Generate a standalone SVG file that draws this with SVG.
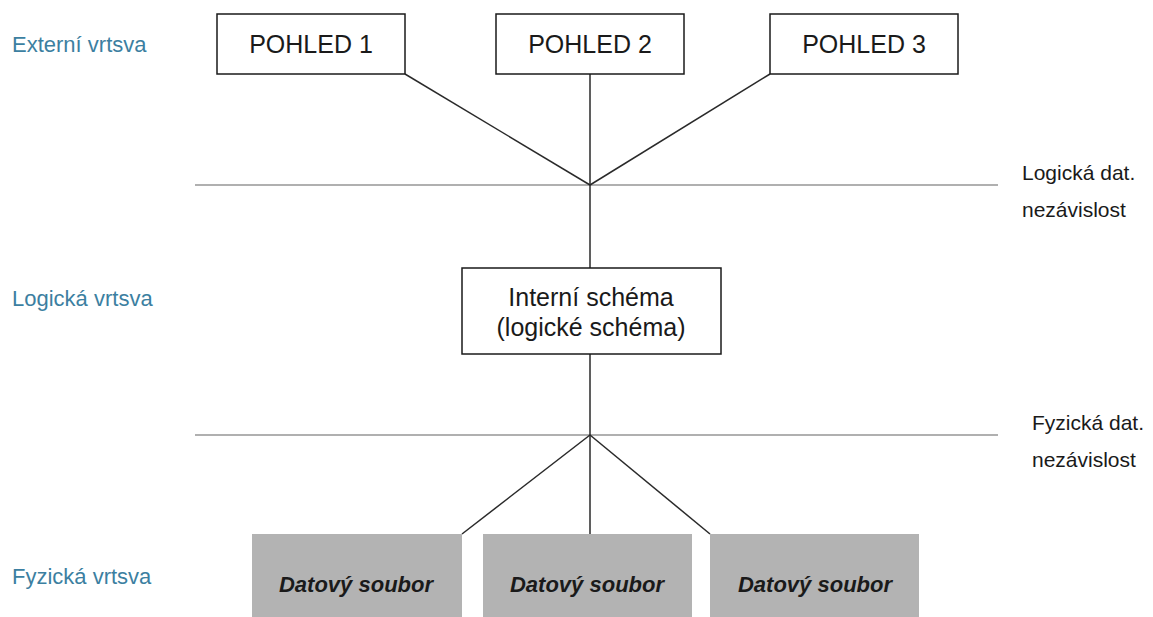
<svg xmlns="http://www.w3.org/2000/svg" width="1153" height="617" viewBox="0 0 1153 617">
<style>
.box{fill:#ffffff;stroke:#1a1a1a;stroke-width:1.5}
.file{fill:#b3b3b3}
.t{font-family:"Liberation Sans",Arial,sans-serif;fill:#1a1a1a}
.big{font-size:25px}
.ft{font-size:22px;font-weight:bold;font-style:italic}
.layer{font-family:"Liberation Sans",Arial,sans-serif;font-size:22px;fill:#3c7fa1}
.note{font-family:"Liberation Sans",Arial,sans-serif;font-size:21px;fill:#1a1a1a}
.sep{stroke:#b0b0b0;stroke-width:2;fill:none}
.con{stroke:#2a2a2a;stroke-width:1.5;fill:none}
</style>
<rect width="1153" height="617" fill="#ffffff"/>
<g id="separators">
<line class="sep" x1="195" y1="185" x2="998" y2="185"/>
<line class="sep" x1="195" y1="435" x2="998" y2="435"/>
</g>
<g id="connectors">
<line class="con" x1="405" y1="74" x2="590" y2="185"/>
<line class="con" x1="590" y1="74" x2="590" y2="268"/>
<line class="con" x1="770" y1="74" x2="590" y2="185"/>
<line class="con" x1="590" y1="354" x2="590" y2="534"/>
<line class="con" x1="590" y1="435" x2="462" y2="534"/>
<line class="con" x1="590" y1="435" x2="710" y2="534"/>
</g>
<g id="layer-labels">
<text class="layer" x="12" y="52">Externí vrtsva</text>
<text class="layer" x="12" y="306">Logická vrtsva</text>
<text class="layer" x="12" y="584">Fyzická vrtsva</text>
</g>
<g id="notes">
<text class="note" x="1022" y="180">Logická dat.</text>
<text class="note" x="1022" y="217">nezávislost</text>
<text class="note" x="1032" y="430">Fyzická dat.</text>
<text class="note" x="1032" y="467">nezávislost</text>
</g>
<g id="pohled1">
<rect class="box" x="217" y="14" width="188" height="60"/>
<text class="t big" x="311" y="53" text-anchor="middle">POHLED 1</text>
</g>
<g id="pohled2">
<rect class="box" x="496" y="14" width="188" height="60"/>
<text class="t big" x="590" y="53" text-anchor="middle">POHLED 2</text>
</g>
<g id="pohled3">
<rect class="box" x="770" y="14" width="188" height="60"/>
<text class="t big" x="864" y="53" text-anchor="middle">POHLED 3</text>
</g>
<g id="interni">
<rect class="box" x="462" y="268" width="259" height="86"/>
<text class="t big" x="591" y="306" text-anchor="middle">Interní schéma</text>
<text class="t big" x="591" y="336" text-anchor="middle">(logické schéma)</text>
</g>
<g id="soubor1">
<rect class="file" x="252" y="534" width="210" height="90"/>
<text class="t ft" x="356" y="592" text-anchor="middle">Datový soubor</text>
</g>
<g id="soubor2">
<rect class="file" x="483" y="534" width="209" height="90"/>
<text class="t ft" x="587" y="592" text-anchor="middle">Datový soubor</text>
</g>
<g id="soubor3">
<rect class="file" x="710" y="534" width="209" height="90"/>
<text class="t ft" x="815" y="592" text-anchor="middle">Datový soubor</text>
</g>
</svg>
